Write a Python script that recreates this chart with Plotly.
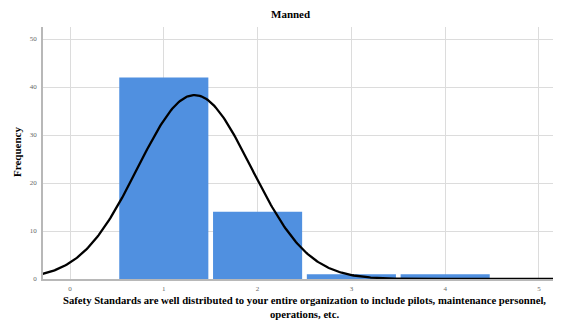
import numpy as np
import plotly.graph_objects as go

# Data
categories = [1, 2, 3, 4]
frequencies = [42, 14, 1, 1]
x_ticks = [0, 1, 2, 3, 4, 5]
y_ticks = [0, 10, 20, 30, 40, 50]
title_text = "Manned"
x_title = ("Safety Standards are well distributed to your entire organization to include pilots, maintenance personnel,"
           "<br>operations, etc.")
y_title = "Frequency"

# Normal curve fitted to the data
vals = np.repeat(categories, frequencies)
n = len(vals)
mu = vals.mean()
sd = vals.std(ddof=1)
xs = np.linspace(-0.3, 5.3, 400)
ys = n * 1.0 * np.exp(-0.5 * ((xs - mu) / sd) ** 2) / (sd * np.sqrt(2 * np.pi))

OFF = 8  # page body margin
W, H = 561 - OFF, 321 - OFF
L, R, T, B = 43 - OFF, 0, 27 - OFF, 321 - 279
pw = W - L - R
ph = H - T - B

fig = go.Figure()
fig.add_trace(go.Bar(x=categories, y=frequencies, width=0.95,
                     marker=dict(color="#5090E0", line=dict(width=0)),
                     hoverinfo="x+y"))
fig.add_trace(go.Scatter(x=xs, y=ys, mode="lines",
                         line=dict(color="black", width=2.3), hoverinfo="skip"))

serif = "Liberation Serif, Times New Roman, serif"
fig.update_layout(
    width=W, height=H,
    margin=dict(l=L, r=R, t=T, b=B, autoexpand=False),
    paper_bgcolor="white", plot_bgcolor="white",
    showlegend=False,
    font=dict(family=serif),
    xaxis=dict(range=[-0.288, 5.235], tickvals=x_ticks, ticktext=[str(v) for v in x_ticks],
               showgrid=True, gridcolor="#dcdcdc", gridwidth=1,
               zeroline=False, showline=True, linecolor="#b8b8b8", linewidth=1.5,
               ticks="", tickfont=dict(size=7, color="#666", family=serif), ticklabelstandoff=2),
    yaxis=dict(range=[0, 52.5], tickvals=y_ticks, ticktext=[str(v) for v in y_ticks],
               showgrid=True, gridcolor="#dcdcdc", gridwidth=1,
               zeroline=False, showline=True, linecolor="#b8b8b8", linewidth=1.5,
               ticks="", tickfont=dict(size=7, color="#666", family=serif), ticklabelstandoff=3),
    annotations=[
        dict(text="<b>" + title_text + "</b>", xref="paper", yref="paper",
             x=(290 - 43) / pw, y=1 + (27 - 14) / ph, xanchor="center", yanchor="middle",
             showarrow=False, font=dict(size=11, color="black", family=serif)),
        dict(text="<b>" + x_title + "</b>", xref="paper", yref="paper",
             x=(304 - 43) / pw, y=-(292 - 279) / ph, xanchor="center", yanchor="top",
             showarrow=False, font=dict(size=10.7, color="black", family=serif)),
        dict(text="<b>" + y_title + "</b>", xref="paper", yref="paper",
             x=-(43 - 17) / pw, y=(279 - 152) / ph, xanchor="center", yanchor="middle", textangle=-90,
             showarrow=False, font=dict(size=11, color="black", family=serif)),
    ],
)

fig.write_html("out.html")
